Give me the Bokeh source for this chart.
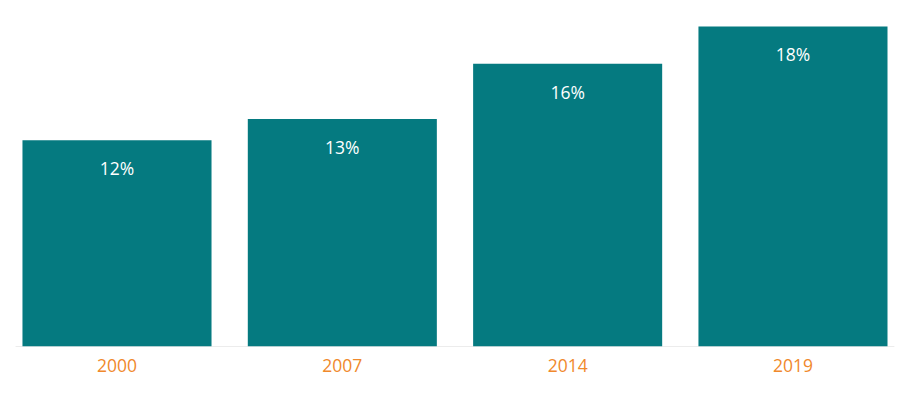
from bokeh.plotting import figure
from bokeh.models import ColumnDataSource, Range1d, FixedTicker
from bokeh.core.properties import value
from bokeh.embed import file_html
from bokeh.resources import INLINE

years = ["2000", "2007", "2014", "2019"]
shares = [11.6, 12.8, 15.9, 18.0]
share_labels = ["12%", "13%", "16%", "18%"]

xs = list(range(len(years)))
src = ColumnDataSource(dict(x=xs, top=shares, label=share_labels))

p = figure(width=911, height=391, output_backend="svg", toolbar_location=None,
           x_range=Range1d(-0.4815, 3.526), y_range=Range1d(0, 19.01),
           min_border_left=8, min_border_right=0, min_border_top=8, min_border_bottom=45)

p.segment(x0=[-0.45], y0=[0], x1=[3.45], y1=[0], line_color="#D9D9D9", line_width=1)
p.vbar(x="x", top="top", bottom=0, width=0.839, source=src, fill_color="#057A80", line_color=None)
p.text(x="x", y="top", text="label", source=src, text_align="center", text_baseline="middle",
       y_offset=28, text_color="white", text_font=value("Open Sans"), text_font_size="17.5px")

p.yaxis.visible = False
p.xgrid.visible = False
p.ygrid.visible = False
p.outline_line_color = None
p.xaxis.ticker = FixedTicker(ticks=xs)
p.xaxis.major_label_overrides = {i: y for i, y in zip(xs, years)}
p.xaxis.axis_line_color = None
p.xaxis.major_tick_line_color = None
p.xaxis.minor_tick_line_color = None
p.xaxis.major_tick_out = 0
p.xaxis.major_tick_in = 0
p.xaxis.major_label_standoff = 12
p.xaxis.major_label_text_color = "#F0892C"
p.xaxis.major_label_text_font = "Open Sans"
p.xaxis.major_label_text_font_size = "17.5px"

open("out.html", "w").write(file_html(p, INLINE))
